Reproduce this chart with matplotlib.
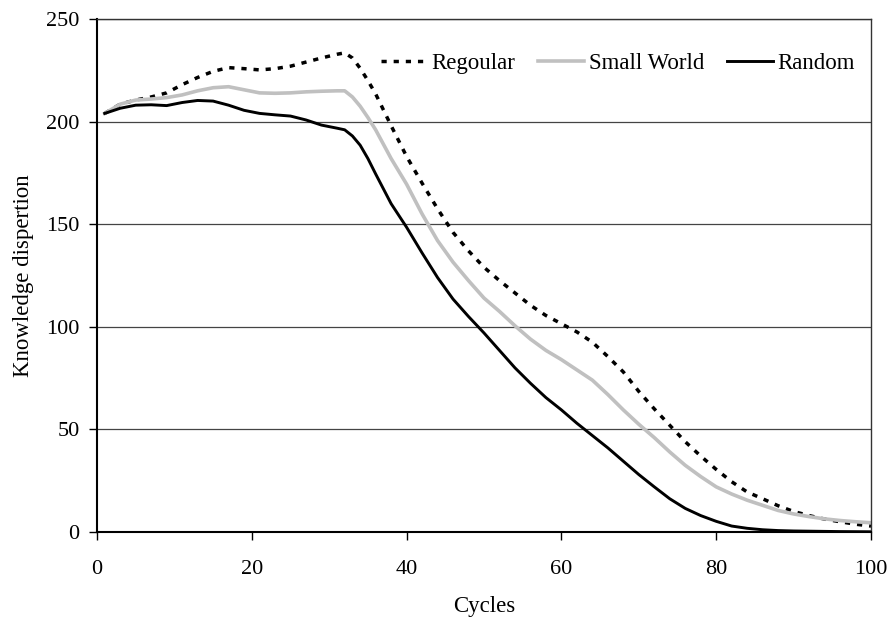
import matplotlib
matplotlib.use("Agg")
import matplotlib.pyplot as plt

plt.rcParams['font.family'] = ['Liberation Serif', 'DejaVu Serif']

cycles = [1, 3, 5, 7, 9, 11, 13, 15, 17, 19, 21, 23, 25, 27, 29, 31, 32, 33, 34, 35, 36,
          38, 40, 42, 44, 46, 48, 50, 52, 54, 56, 58, 60, 62, 64, 66, 68, 70, 72, 74, 76,
          78, 80, 82, 84, 86, 88, 90, 92, 94, 96, 98, 100]

regoular = [204, 208.5, 210.5, 212, 214, 218, 221.5, 224.5, 226.3, 225.8, 225.2, 225.8,
            227, 229, 231, 232.8, 233.5, 231, 226, 220, 213.5, 198, 183, 170, 157.5, 146, 137,
            129, 122.5, 116.5, 110.5, 105.5, 101.5, 97.5, 92.5, 85.5, 78, 68.5, 60, 52, 44,
            37, 30.5, 24.5, 19.5, 16.2, 12.8, 10, 8, 6.3, 5, 3.8, 2.9]

small_world = [204, 208.5, 210.5, 211, 211.7, 213, 215, 216.5, 217, 215.5, 214, 213.8,
               214, 214.5, 214.8, 215, 215, 212, 207.5, 202, 196, 182, 169.5, 155, 142, 131.5,
               122.5, 114, 107.5, 100.5, 94, 88.5, 84, 79, 74, 67, 59.5, 52.5, 46, 39, 32.5,
               27, 22, 18.5, 15.5, 13, 10.5, 8.8, 7.5, 6.4, 5.6, 5, 4.5]

random_net = [204, 206.5, 208, 208.2, 207.8, 209.3, 210.3, 210, 208, 205.5, 204, 203.3,
              202.7, 200.8, 198.3, 196.8, 196, 193, 188.5, 182, 174.5, 160, 148.5, 136, 124, 113.5,
              105, 97, 88.5, 80, 72.5, 65.5, 59.5, 53, 47, 41, 34.5, 28, 22, 16.2, 11.5,
              8, 5.2, 2.9, 1.8, 1.1, 0.7, 0.5, 0.4, 0.3, 0.2, 0.15, 0.1]

fig = plt.figure(figsize=(8.91, 6.22), dpi=100)
ax = fig.add_axes([97 / 891, 90 / 622, 774 / 891, 513 / 622])

# линии сетки
ax.set_axisbelow(True)
ax.yaxis.grid(True, color='#444444', linewidth=0.9)

ax.plot(cycles, regoular, color='black', linewidth=2.5, linestyle=(0, (1.5, 2.0)), label='Regoular')
ax.plot(cycles, small_world, color='#c0c0c0', linewidth=2.6, label='Small World')
ax.plot(cycles, random_net, color='black', linewidth=2.1, label='Random')

ax.set_xlim(0, 100)
ax.set_ylim(0, 250)
ax.set_xticks([0, 20, 40, 60, 80, 100])
ax.set_yticks([0, 50, 100, 150, 200, 250])
ax.tick_params(labelsize=16, direction='out', length=5.5, width=1)
ax.tick_params(axis='x', pad=15)
ax.tick_params(axis='y', pad=7)

for side in ['left', 'bottom']:
    ax.spines[side].set_linewidth(1.5)
for side in ['top', 'right']:
    ax.spines[side].set_linewidth(1.0)
    ax.spines[side].set_color('#333333')

ax.set_xlabel('Cycles', fontsize=16.5, labelpad=12)
ax.set_ylabel('Knowledge dispertion', fontsize=16.5, labelpad=9)

ax.legend(loc='center right', bbox_to_anchor=(0.979, 0.914), ncol=3, frameon=False,
          fontsize=16.5, handlelength=2.0, handletextpad=0.2, columnspacing=1.0,
          borderpad=0, borderaxespad=0)

fig.savefig('out.png', dpi=100)
